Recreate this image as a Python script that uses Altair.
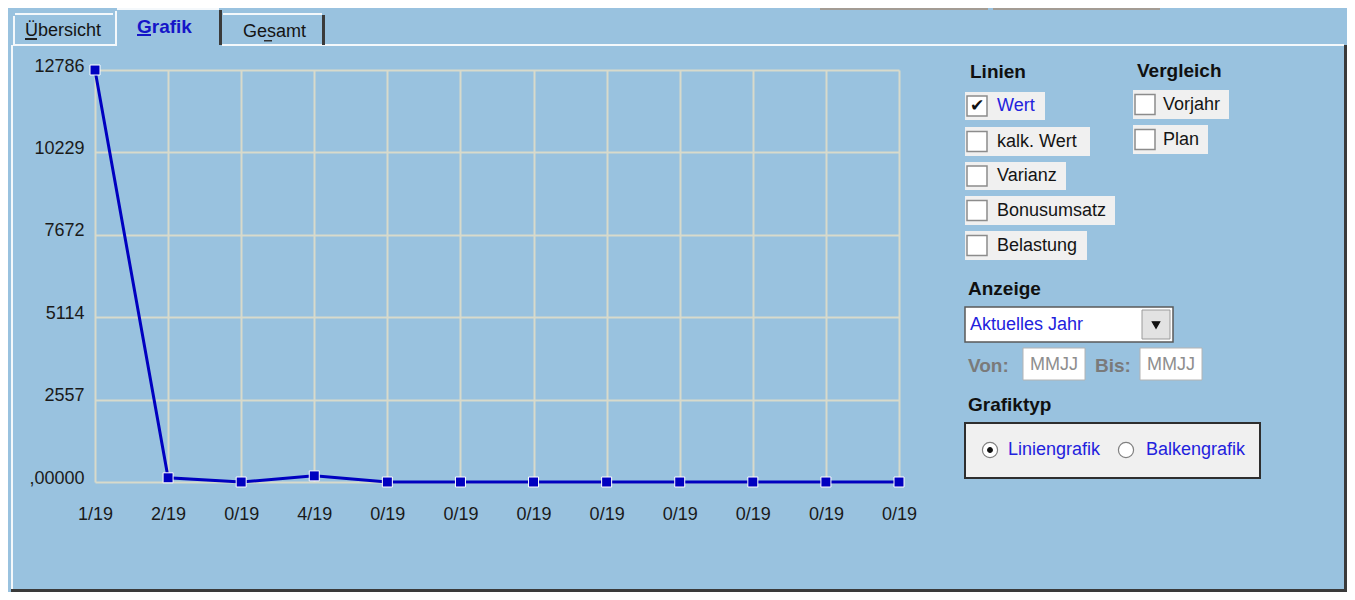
import altair as alt
import pandas as pd

# ---------------- chart data ----------------
x_labels = ["1/19", "2/19", "0/19", "4/19", "0/19", "0/19",
            "0/19", "0/19", "0/19", "0/19", "0/19", "0/19"]
values = [12786, 130, 0, 190, 0, 0, 0, 0, 0, 0, 0, 0]
y_tick_values = [0, 2557.2, 5114.4, 7671.6, 10228.8, 12786]
y_tick_labels = [",00000", "2557", "5114", "7672", "10229", "12786"]

# ---------------- UI texts ----------------
tab_labels = ["Übersicht", "Grafik", "Gesamt"]
line_options = ["Wert", "kalk. Wert", "Varianz", "Bonusumsatz", "Belastung"]
compare_options = ["Vorjahr", "Plan"]
section_titles = ["Linien", "Vergleich", "Anzeige", "Grafiktyp"]
display_choice = "Aktuelles Jahr"
range_labels = ["Von:", "Bis:"]
range_placeholder = "MMJJ"
chart_types = ["Liniengrafik", "Balkengrafik"]

# ---------------- layout (page pixels) ----------------
BG = "#99C2DF"
GRID = "#D8DACB"
LINE = "#0000C0"
BLUE_TXT = "#2222DD"
ITEM_BG = "#F0F0F0"
OX, OY = 95, 70          # page position of plot origin
W, H = 804, 412          # plot area
TOTAL_W, TOTAL_H = 1339, 584
PAD = {"left": OX - 8, "top": OY - 8,
       "right": TOTAL_W - (OX - 8) - W, "bottom": TOTAL_H - (OY - 8) - H}
BOTTOM = 8 + TOTAL_H
RIGHT = 8 + TOTAL_W

rects = []  # x1, y1, x2, y2, fill, stroke, sw


def R(x1, y1, x2, y2, fill, stroke="transparent", sw=0):
    rects.append(dict(x1=x1 - OX, y1=y1 - OY, x2=x2 - OX, y2=y2 - OY,
                      fill=fill, stroke=stroke, sw=sw))


WHITE_L = "#F4F8FB"
DARK_L = "#3A3A3A"
# top widgets cut off
R(820, 8, 988, 10, "#A39C94")
R(993, 8, 1160, 10, "#A39C94")
# panel frame
R(13, 44, 115, 46, WHITE_L)
R(222, 44, RIGHT - 3, 46, WHITE_L)
R(11, 45, 13, BOTTOM - 3, WHITE_L)
R(RIGHT - 3, 45, RIGHT, BOTTOM, DARK_L)
R(11, BOTTOM - 3, RIGHT, BOTTOM, DARK_L)
# tabs
R(13, 16, 15, 45, WHITE_L)
R(15, 13, 113, 15, WHITE_L)
R(115, 11, 117, 46, WHITE_L)
R(117, 8, 219, 10, WHITE_L)
R(219, 10, 222, 45, DARK_L)
R(223, 13, 322, 15, WHITE_L)
R(322, 15, 325, 45, DARK_L)
# mnemonic underlines
R(25, 38, 37, 40, "#202020")
R(137, 34, 151, 36, "#1515C8")
R(264, 40, 272, 41.5, "#303030")

# check box items
line_items_geom = [(965, 92, 1045, 120), (965, 127, 1090, 156), (965, 162, 1066, 190),
                   (965, 196, 1115, 225), (965, 231, 1087, 260)]
cmp_items_geom = [(1133, 90, 1229, 119), (1133, 125, 1208, 154)]
texts = []   # x, y, text, color
bold = []


def T(x, y, t, color="#141414", lst=texts):
    lst.append(dict(x=x - OX, y=y - OY, text=t, color=color))


for i, (lab, g) in enumerate(zip(line_options, line_items_geom)):
    x1, y1, x2, y2 = g
    R(x1, y1, x2, y2, ITEM_BG)
    cy = (y1 + y2) / 2
    R(967, cy - 10, 987, cy + 10, "white", "#8C8C8C", 1.5)
    T(997, cy, lab, BLUE_TXT if i == 0 else "#141414")
for lab, g in zip(compare_options, cmp_items_geom):
    x1, y1, x2, y2 = g
    R(x1, y1, x2, y2, ITEM_BG)
    cy = (y1 + y2) / 2
    R(1135, cy - 10, 1155, cy + 10, "white", "#8C8C8C", 1.5)
    T(1163, cy, lab)

# dropdown
R(965, 307, 1173, 342, "white", "#5A5A5A", 1.5)
R(1142, 310, 1170, 339, "#E2E2E2", "#9A9A9A", 1)
T(970, 325, display_choice, BLUE_TXT)
# range boxes
R(1023, 348, 1085, 380, "white", "#B4B4B4", 1)
R(1140, 348, 1202, 380, "white", "#B4B4B4", 1)
T(1030, 365, range_placeholder, "#8E8E8E")
T(1147, 365, range_placeholder, "#8E8E8E")
# radio group
R(965, 423, 1260, 478, ITEM_BG, "#2E2E2E", 2)
T(1008, 450, chart_types[0], BLUE_TXT)
T(1146, 450, chart_types[1], BLUE_TXT)

# tab texts
T(25, 31, tab_labels[0])
T(137, 27, tab_labels[1], "#1515C8", bold)
T(243, 32, tab_labels[2])
# section titles
T(970, 72, section_titles[0], "#101010", bold)
T(1137, 71, section_titles[1], "#101010", bold)
T(968, 289, section_titles[2], "#101010", bold)
T(968, 405, section_titles[3], "#101010", bold)
T(968, 366, range_labels[0], "#7A7A7A", bold)
T(1095, 366, range_labels[1], "#7A7A7A", bold)

# glyphs
glyph_pts = [dict(x=990 - OX, y=450 - OY, shape="circle", fill="white", stroke="#808080", size=230),
             dict(x=1126 - OX, y=450 - OY, shape="circle", fill="white", stroke="#808080", size=230),
             dict(x=990 - OX, y=450 - OY, shape="circle", fill="#111111", stroke="#111111", size=22),
             dict(x=1156 - OX, y=325 - OY, shape="triangle-down", fill="#111111", stroke="#111111", size=55)]
check_marks = [dict(x=977 - OX, y=106 - OY, text="✔")]

# ---------------- build ----------------
df = pd.DataFrame({"idx": list(range(len(values))), "label": x_labels, "value": values})

x_expr = "[" + ",".join("'%s'" % s for s in x_labels) + "][datum.value]"
y_expr = "[" + ",".join("'%s'" % s for s in y_tick_labels) + "][round(datum.value / 2557.2)]"

xenc = alt.X("idx:Q", scale=alt.Scale(domain=[0, len(values) - 1], nice=False),
             axis=alt.Axis(values=list(range(len(values))), labelExpr=x_expr, title=None,
                           grid=True, gridColor=GRID, gridWidth=2, domain=False, ticks=False,
                           tickSize=0, labelFlush=False, labelPadding=23, labelFontSize=18,
                           labelFont="Liberation Sans", labelColor="#1A1A1A", labelOverlap=False))
yenc = alt.Y("value:Q", scale=alt.Scale(domain=[0, 12786], nice=False, zero=True),
             axis=alt.Axis(values=y_tick_values, labelExpr=y_expr, title=None,
                           grid=True, gridColor=GRID, gridWidth=2, domain=False, ticks=False,
                           tickSize=0, labelFlush=False, labelPadding=11, labelOffset=-4,
                           labelFontSize=18, labelFont="Liberation Sans", labelColor="#1A1A1A",
                           labelOverlap=False))

base = alt.Chart(df).encode(x=xenc, y=yenc)
line = base.mark_line(color=LINE, strokeWidth=3)
pts = base.mark_point(shape="square", filled=True, fill=LINE, stroke="white",
                      strokeWidth=1, size=100, opacity=1)
data_layer = alt.layer(line, pts)

ui_rect = alt.Chart(pd.DataFrame(rects)).mark_rect().encode(
    x=alt.X("x1:Q", scale=None), x2="x2:Q",
    y=alt.Y("y1:Q", scale=None), y2="y2:Q",
    color=alt.Color("fill:N", scale=None),
    stroke=alt.Stroke("stroke:N", scale=None),
    strokeWidth=alt.StrokeWidth("sw:Q", scale=None))

ui_text = alt.Chart(pd.DataFrame(texts)).mark_text(
    align="left", baseline="middle", font="Liberation Sans", fontSize=18).encode(
    x=alt.X("x:Q", scale=None), y=alt.Y("y:Q", scale=None),
    text="text:N", color=alt.Color("color:N", scale=None))

ui_bold = alt.Chart(pd.DataFrame(bold)).mark_text(
    align="left", baseline="middle", font="Liberation Sans", fontSize=19, fontWeight="bold").encode(
    x=alt.X("x:Q", scale=None), y=alt.Y("y:Q", scale=None),
    text="text:N", color=alt.Color("color:N", scale=None))

ui_pts = alt.Chart(pd.DataFrame(glyph_pts)).mark_point(filled=True, opacity=1, strokeWidth=1.2).encode(
    x=alt.X("x:Q", scale=None), y=alt.Y("y:Q", scale=None),
    shape=alt.Shape("shape:N", scale=None),
    fill=alt.Fill("fill:N", scale=None),
    stroke=alt.Stroke("stroke:N", scale=None),
    size=alt.Size("size:Q", scale=None))

ui_check = alt.Chart(pd.DataFrame(check_marks)).mark_text(
    align="center", baseline="middle", font="DejaVu Sans", fontSize=17, color="#111111").encode(
    x=alt.X("x:Q", scale=None), y=alt.Y("y:Q", scale=None), text="text:N")

chart = alt.layer(ui_rect, data_layer, ui_text, ui_bold, ui_pts, ui_check).resolve_scale(
    x="independent", y="independent"
).properties(
    width=W, height=H, padding=PAD, background=BG,
    autosize=alt.AutoSizeParams(type="none")
).configure_view(stroke=None)

chart.save("out.html", embed_options={"renderer": "svg", "actions": False})
